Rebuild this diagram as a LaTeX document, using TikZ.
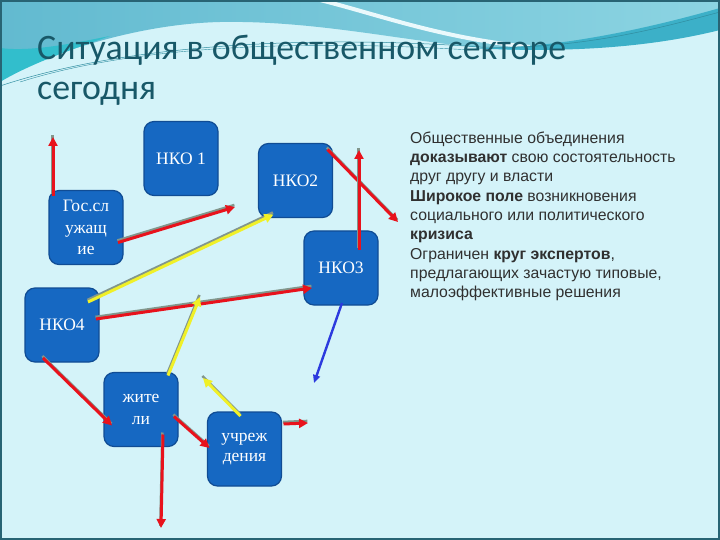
\documentclass[tikz,border=0pt]{standalone}
\usepackage{fontspec}
\setmainfont{Liberation Serif}
\newfontfamily\titlefont{Carlito}
\newfontfamily\bodyfont{Liberation Sans}
\usetikzlibrary{arrows.meta}
\definecolor{bgc}{RGB}{212,243,249}
\definecolor{waveA}{RGB}{98,186,208}
\definecolor{waveB}{RGB}{140,212,226}
\definecolor{waveC}{RGB}{60,176,200}
\definecolor{waveD}{RGB}{50,190,204}
\definecolor{framec}{RGB}{40,100,116}
\definecolor{boxfill}{RGB}{22,104,194}
\definecolor{boxdraw}{RGB}{16,76,148}
\definecolor{redc}{RGB}{232,18,28}
\definecolor{yelc}{RGB}{240,240,40}
\definecolor{bluec}{RGB}{44,58,222}
\definecolor{shadowc}{RGB}{130,150,140}
\definecolor{titlec}{RGB}{24,88,104}
\definecolor{bodyc}{RGB}{48,48,48}
\tikzset{
  box/.style={draw=boxdraw, line width=1.2pt, fill=boxfill, rounded corners=10pt,
    minimum width=74pt, minimum height=74pt, inner sep=0pt, outer sep=0pt,
    text=white, align=center, font=\fontsize{17.5}{21.5}\selectfont},
  arr/.style={line width=3pt, -{Triangle[length=9pt,width=9pt]},
    preaction={draw=shadowc, line width=2.6pt, -, transform canvas={shift={(-0.6pt,2pt)}}}},
  redarr/.style={arr, draw=redc},
  yelarr/.style={arr, draw=yelc},
  bluearr/.style={line width=2.4pt, draw=bluec, -{Triangle[length=8pt,width=7pt]}},
  bodyline/.style={anchor=base west, inner sep=0pt, text=bodyc, font=\bodyfont\fontsize{15.8}{18}\selectfont},
  titleline/.style={anchor=base west, inner sep=0pt, text=titlec, font=\titlefont\fontsize{35.8}{40}\selectfont}
}
\begin{document}
\begin{tikzpicture}[x=1pt,y=-1pt]
\useasboundingbox (0,0) rectangle (720,540);
\fill[bgc] (0,0) rectangle (720,540);
% top waves
\shade[left color=waveA, right color=waveB] (0,0) -- (720,0) -- (720,28)
  .. controls (640,42) and (580,50) .. (520,50)
  .. controls (430,48) and (330,20) .. (220,22)
  .. controls (140,24) and (60,50) .. (0,78) -- cycle;
\fill[waveD] (0,48) .. controls (30,52) and (70,44) .. (110,36)
  .. controls (70,50) and (30,64) .. (0,82) -- cycle;
\draw[white!50!bgc, line width=4pt] (320,0) .. controls (380,15) and (440,38) .. (530,47);
\fill[waveC] (470,48) .. controls (560,50) and (660,25) .. (720,8) -- (720,30)
  .. controls (660,45) and (580,54) .. (470,48) -- cycle;
\draw[waveC!80!black, line width=0.5pt] (0,86) .. controls (120,46) and (300,34) .. (480,47)
  .. controls (580,50) and (660,28) .. (720,12);
\draw[waveC!80!black, line width=0.4pt] (20,82) .. controls (140,44) and (310,40) .. (470,50);
\draw[framec, line width=2pt] (1,1) rectangle (719,539);
% title
\node[titleline] (title1) at (37,60) {Ситуация в общественном секторе};
\node[titleline] (title2) at (37,100) {сегодня};
% right text
\node[bodyline] (t1) at (410,143.5) {Общественные объединения};
\node[bodyline] (t2) at (410,162.75) {\textbf{доказывают} свою состоятельность};
\node[bodyline] (t3) at (410,182) {друг другу и власти};
\node[bodyline] (t4) at (410,201.25) {\textbf{Широкое поле} возникновения};
\node[bodyline] (t5) at (410,220.5) {социального или политического};
\node[bodyline] (t6) at (410,239.75) {\textbf{кризиса}};
\node[bodyline] (t7) at (410,259) {Ограничен \textbf{круг экспертов},};
\node[bodyline] (t8) at (410,278.25) {предлагающих зачастую типовые,};
\node[bodyline] (t9) at (410,297.5) {малоэффективные решения};
% boxes
\node[box] (n1) at (181,158.5) {НКО 1};
\node[box] (n2) at (295.5,180.5) {НКО2};
\node[box] (gos) at (86,227.5) {Гос.сл\\ужащ\\ие};
\node[box] (n3) at (341,268) {НКО3};
\node[box] (n4) at (62,325) {НКО4};
\node[box, font=\fontsize{17.5}{22}\selectfont] (zh) at (141,409.5) {жите\\ли};
\node[box, font=\fontsize{17.5}{20.5}\selectfont] (uch) at (244.5,449) {учреж\\дения};
% free ends
\coordinate (e1) at (53,137);
\coordinate (e2) at (235,207);
\coordinate (e4) at (398,222);
\coordinate (e5) at (359,150);
\coordinate (e7) at (314,383);
\coordinate (e8) at (200,297);
\coordinate (e9) at (203,378);
\coordinate (e12) at (308,423);
\coordinate (e13) at (161,528);
% connectors
\draw[redarr] ([shift={(4,6)}]gos.north west) -- (e1);
\draw[redarr] ([shift={(-5,15)}]gos.east) -- (e2);
\draw[yelarr] ([shift={(-11,14)}]n4.north east) -- ([shift={(15,-3)}]n2.south west);
\draw[redarr] ([shift={(-5,6)}]n2.north east) -- (e4);
\draw[redarr] ([shift={(-19,19)}]n3.north east) -- (e5);
\draw[redarr] ([shift={(-3,-6)}]n4.east) -- ([shift={(8,20)}]n3.west);
\draw[bluearr] ([shift={(1,-2)}]n3.south) -- (e7);
\draw[yelarr] ([shift={(-10,3)}]zh.north east) -- (e8);
\draw[yelarr] ([shift={(-4,4)}]uch.north) -- (e9);
\draw[redarr] ([shift={(18,-4)}]n4.south west) -- ([shift={(8,16)}]zh.west);
\draw[redarr] ([shift={(-4,7)}]zh.east) -- ([shift={(2,-1)}]uch.west);
\draw[redarr] ([shift={(2,12)}]uch.north east) -- (e12);
\draw[redarr] ([shift={(22,-12)}]zh.south) -- (e13);
\end{tikzpicture}
\end{document}
